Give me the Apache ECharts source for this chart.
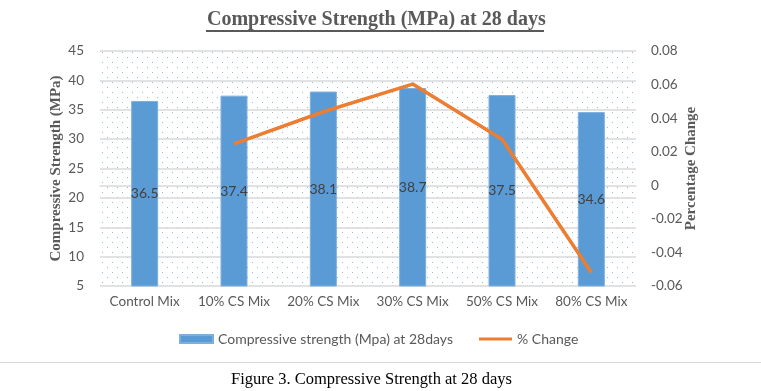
<!DOCTYPE html>
<html>
<head>
<meta charset="utf-8">
<script src="https://cdn.jsdelivr.net/npm/echarts@6/dist/echarts.min.js"></script>
<style>html,body{margin:0;padding:0;background:#fff}#c{width:761px;height:391px}</style>
</head>
<body>
<div id="c"></div>
<script>
const categories = ['Control Mix', '10% CS Mix', '20% CS Mix', '30% CS Mix', '50% CS Mix', '80% CS Mix'];
const strength = [36.5, 37.4, 38.1, 38.7, 37.5, 34.6];
const pctChange = [null, 0.0247, 0.0438, 0.0603, 0.0274, -0.052];
const leftTicks = { min: 5, max: 45, interval: 5 };
const rightTicks = { min: -0.06, max: 0.08, interval: 0.02 };

const tile = document.createElement('canvas');
tile.width = 10; tile.height = 10;
const tc = tile.getContext('2d');
tc.fillStyle = '#8fbbe3';
tc.fillRect(2, 2, 1, 1);
tc.fillRect(7, 7, 1, 1);

const sans = 'Lato';
const serif = 'Liberation Serif';
const chart = echarts.init(document.getElementById('c'));
chart.setOption({
  animation: false,
  title: [
    { text: 'Compressive Strength (MPa) at 28 days', left: 202, top: 5,
      textStyle: { fontFamily: serif, fontWeight: 'bold', fontSize: 20, color: '#595959' } },
    { text: 'Figure 3. Compressive Strength at 28 days', left: 226, top: 366,
      textStyle: { fontFamily: serif, fontWeight: 'normal', fontSize: 16.5, color: '#000' } }
  ],
  graphic: [
    { type: 'rect', left: 206, top: 30, shape: { width: 338, height: 2 }, style: { fill: '#595959' } },
    { type: 'rect', left: 0, top: 362, shape: { width: 761, height: 1 }, style: { fill: '#d9d9d9' } }
  ],
  grid: { left: 100, right: 125, top: 51, bottom: 105, show: true, borderWidth: 0,
    backgroundColor: { image: tile, repeat: 'repeat' } },
  legend: {
    top: 327, left: 174, itemWidth: 33, itemHeight: 8, itemGap: 26,
    textStyle: { fontFamily: sans, fontSize: 14, color: '#595959' },
    data: [
      { name: 'Compressive strength (Mpa) at 28days', icon: 'rect' },
      { name: '% Change', icon: 'path://M0,0 L33,0 L33,3 L0,3 Z' }
    ]
  },
  xAxis: {
    type: 'category', data: categories,
    axisLine: { lineStyle: { color: '#d9d9d9', width: 1.5 } },
    axisTick: { show: false },
    axisLabel: { fontFamily: sans, fontSize: 13.5, color: '#595959', margin: 9, interval: 0 }
  },
  yAxis: [
    { type: 'value', min: leftTicks.min, max: leftTicks.max, interval: leftTicks.interval,
      name: 'Compressive Strength (MPa)', nameLocation: 'middle', nameGap: 36, nameMoveOverlap: false,
      nameTextStyle: { fontFamily: serif, fontWeight: 'bold', fontSize: 15, color: '#595959' },
      axisLine: { show: false }, axisTick: { show: false },
      axisLabel: { fontFamily: sans, fontSize: 13.5, color: '#595959', margin: 16 },
      splitLine: { lineStyle: { color: '#d9d9d9', width: 1.5 } } },
    { type: 'value', min: rightTicks.min, max: rightTicks.max, interval: rightTicks.interval,
      alignTicks: false,
      name: 'Percentage Change', nameLocation: 'middle', nameGap: 48, nameRotate: 90, nameMoveOverlap: false,
      nameTextStyle: { fontFamily: serif, fontWeight: 'bold', fontSize: 15, color: '#595959' },
      axisLine: { show: false }, axisTick: { show: false }, splitLine: { show: false },
      axisLabel: { fontFamily: sans, fontSize: 13.5, color: '#595959', margin: 15,
        formatter: v => String(+v.toFixed(2)) } }
  ],
  series: [
    { name: 'Compressive strength (Mpa) at 28days', type: 'bar', data: strength, barWidth: 27,
      itemStyle: { color: '#5b9bd5', borderColor: '#7eb0de', borderWidth: 1 },
      label: { show: true, position: 'inside', fontFamily: sans, fontSize: 14, color: '#404040' } },
    { name: '% Change', type: 'line', yAxisIndex: 1, data: pctChange, symbol: 'none',
      lineStyle: { color: '#ed7d31', width: 3.5 }, itemStyle: { color: '#ed7d31' } }
  ]
});
</script>
</body>
</html>
